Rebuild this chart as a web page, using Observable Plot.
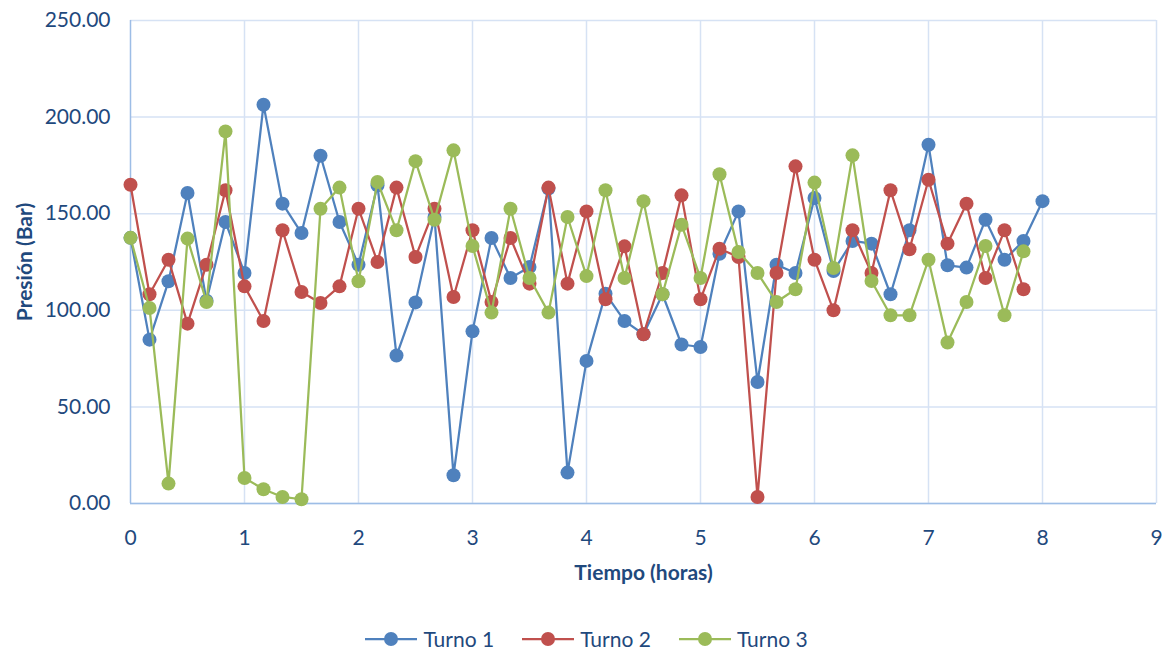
<!DOCTYPE html>
<html>
<head>
<meta charset="utf-8">
<script src="https://cdn.jsdelivr.net/npm/d3@7"></script>
<script src="https://cdn.jsdelivr.net/npm/@observablehq/plot@0.6"></script>
<style>
  body { margin: 0; background: #fff; font-family: Lato, "Open Sans", sans-serif; }
  #chart { width: 1163px; }
  .legend { display: flex; justify-content: center; align-items: center; margin-top: 28px; height: 22px;
            line-height: 22px; font-size: 21px; color: #1F497D; padding-left: 10px; }
  .legend .item { display: flex; align-items: center; margin: 0 14px; }
  .legend svg { margin-right: 6px; }
</style>
</head>
<body>
<div id="chart"></div>
<script>
// Sampling instants of each shift, minutes from start (every 10 min)
const minutos = [0, 10, 20, 30, 40, 50, 60, 70, 80, 90, 100, 110, 120, 130, 140, 150, 160, 170, 180, 190,
  200, 210, 220, 230, 240, 250, 260, 270, 280, 290, 300, 310, 320, 330, 340, 350, 360, 370, 380, 390,
  400, 410, 420, 430, 440, 450, 460, 470, 480];

// Pressure readings (bar) per shift
const turno1 = [137.5, 84.8, 115, 160.7, 105, 145.7, 119.3, 206.4, 155.2, 140, 180, 145.7, 123.6, 164.7,
  76.6, 104.1, 148.3, 14.6, 89.1, 137.4, 116.7, 122.4, 163, 16, 73.8, 108.6, 94.5, 87.6, 108.3, 82.3, 81,
  129.3, 151.2, 62.9, 123.6, 119.3, 158.1, 120.3, 135.9, 134.5, 108.3, 141.4, 185.7, 123.3, 122.1, 146.9,
  126.2, 135.9, 156.5];
const turno2 = [165, 108.3, 126.2, 93.1, 123.6, 162.1, 112.4, 94.5, 141.4, 109.5, 103.8, 112.4, 152.6, 125,
  163.5, 127.6, 152.6, 106.9, 141.4, 104.3, 137.4, 113.8, 163.5, 113.8, 151.2, 105.7, 133.1, 87.6, 119.3,
  159.5, 105.7, 131.9, 127.6, 3.4, 119.3, 174.5, 126.2, 100, 141.4, 119.3, 162.1, 131.6, 167.6, 134.5,
  155.2, 116.7, 141.4, 110.9];
const turno3 = [137.5, 101.2, 10.3, 137.1, 104.3, 192.6, 13.2, 7.4, 3.4, 2.2, 152.6, 163.5, 115, 166.4,
  141.4, 177.2, 146.9, 182.8, 133.3, 98.8, 152.6, 116.7, 98.8, 148.3, 117.7, 162.1, 116.7, 156.5, 108.3,
  144.3, 116.7, 170.4, 130.2, 119.3, 104.3, 110.9, 166.1, 121.9, 180.2, 115.2, 97.4, 97.4, 126.2, 83.3,
  104.3, 133.3, 97.4, 130.5];

const nombres = ["Turno 1", "Turno 2", "Turno 3"];
const colores = ["#4F81BD", "#C0504D", "#9BBB59"];
const ticksY = [0, 50, 100, 150, 200, 250];
const ticksX = [0, 1, 2, 3, 4, 5, 6, 7, 8, 9];

const series = [turno1, turno2, turno3].map((values, k) => ({
  name: nombres[k],
  color: colores[k],
  rows: values.map((p, i) => ({ t: minutos[i] / 60, p }))
}));

const textColor = "#1F497D";
const gridColor = "#D6E2F4";
const axisColor = "#9DBDE6";

const seriesMarks = series.flatMap(s => [
  Plot.line(s.rows, { x: "t", y: "p", stroke: s.color, strokeWidth: 2.25 }),
  Plot.dot(s.rows, { x: "t", y: "p", r: 7, fill: s.color, stroke: "none" })
]);

const chart = Plot.plot({
  width: 1163,
  height: 600,
  marginTop: 20,
  marginLeft: 130,
  marginRight: 7,
  marginBottom: 97,
  x: { domain: [0, 9] },
  y: { domain: [0, 250] },
  style: { fontFamily: "Lato, 'Open Sans', sans-serif", fontSize: "21px", color: textColor, background: "#fff" },
  marks: [
    Plot.gridY(ticksY, { stroke: gridColor, strokeOpacity: 1, strokeWidth: 1.5 }),
    Plot.gridX(ticksX.slice(1), { stroke: gridColor, strokeOpacity: 1, strokeWidth: 1.5 }),
    Plot.ruleY([0], { stroke: axisColor, strokeWidth: 1.5 }),
    Plot.ruleX([0], { stroke: axisColor, strokeWidth: 1.5 }),
    Plot.axisY(ticksY, { tickSize: 0, tickPadding: 20, tickFormat: d3.format(".2f"), label: null, fill: textColor, fontSize: 21 }),
    Plot.axisX(ticksX, { tickSize: 0, tickPadding: 27, tickFormat: d3.format("d"), label: null, fill: textColor, fontSize: 21 }),
    ...seriesMarks,
    Plot.text(["Tiempo (horas)"], { frameAnchor: "bottom", dy: 70, lineAnchor: "middle", textAnchor: "middle",
      fontWeight: "bold", fill: textColor, fontSize: 21 }),
    Plot.text(["Presión (Bar)"], { frameAnchor: "left", dx: -105, rotate: -90, lineAnchor: "middle", textAnchor: "middle",
      fontWeight: "bold", fill: textColor, fontSize: 21 })
  ]
});

const root = document.getElementById("chart");
root.appendChild(chart);

// Legend below the plot
const legend = document.createElement("div");
legend.className = "legend";
series.forEach(s => {
  const item = document.createElement("div");
  item.className = "item";
  item.innerHTML = `<svg width="52" height="16"><line x1="0" x2="52" y1="8" y2="8" stroke="${s.color}" stroke-width="2.25"/>` +
    `<circle cx="26" cy="8" r="7" fill="${s.color}"/></svg><span>${s.name}</span>`;
  legend.appendChild(item);
});
root.appendChild(legend);
</script>
</body>
</html>
